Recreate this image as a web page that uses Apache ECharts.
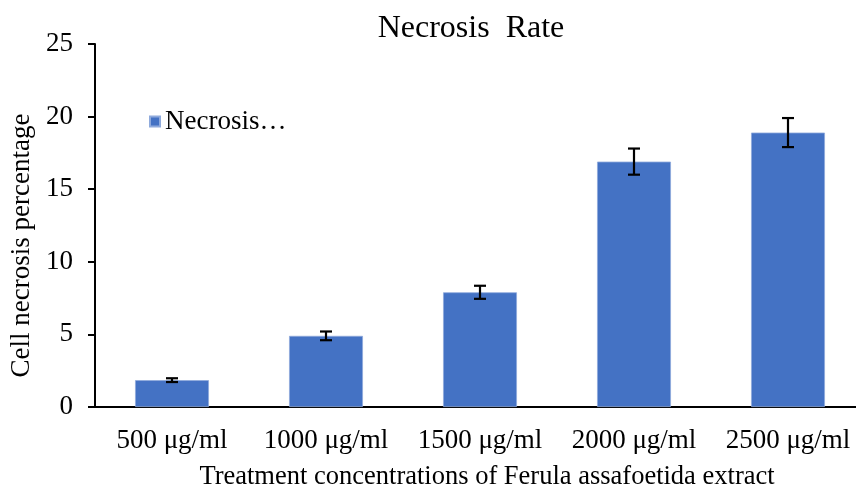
<!DOCTYPE html>
<html>
<head>
<meta charset="utf-8">
<script src="https://cdn.jsdelivr.net/npm/echarts@6/dist/echarts.min.js"></script>
<style>html,body{margin:0;padding:0;background:#fff;}#c{width:856px;height:490px;}</style>
</head>
<body>
<div id="c"></div>
<script>
var categories = ['500 μg/ml', '1000 μg/ml', '1500 μg/ml', '2000 μg/ml', '2500 μg/ml'];
var necrosis = [1.85, 4.9, 7.9, 16.9, 18.9];
var errors = [0.13, 0.3, 0.45, 0.9, 1.0];
var yTicks = [0, 5, 10, 15, 20, 25];

var FONT = '"Liberation Serif", "Times New Roman", serif';
var chart = echarts.init(document.getElementById('c'));
var errData = necrosis.map(function (v, i) { return [i, v - errors[i], v + errors[i]]; });

chart.setOption({
  animation: false,
  backgroundColor: '#fff',
  title: {
    text: 'Necrosis  Rate',
    left: 466, top: 8, textAlign: 'center',
    textStyle: { fontFamily: FONT, fontSize: 32, fontWeight: 'normal', color: '#000' }
  },
  legend: {
    data: ['Necrosis…'],
    left: 144, top: 103,
    itemWidth: 10, itemHeight: 10, itemGap: 6,
    icon: 'rect',
    textStyle: { fontFamily: FONT, fontSize: 27, color: '#000' }
  },
  grid: { left: 95, top: 44, width: 770, height: 363, outerBoundsMode: 'none', containLabel: false },
  xAxis: {
    type: 'category',
    data: categories,
    name: 'Treatment concentrations of Ferula assafoetida extract',
    nameLocation: 'middle',
    nameGap: 57,
    nameTextStyle: { fontFamily: FONT, fontSize: 26.5, color: '#000', padding: [0, 0, 0, 14] },
    axisLine: { lineStyle: { color: '#000', width: 2 } },
    axisTick: { show: false },
    axisLabel: { fontFamily: FONT, fontSize: 27, color: '#000', margin: 20, interval: 0 }
  },
  yAxis: {
    type: 'value',
    min: 0, max: 25, interval: 5,
    name: 'Cell necrosis percentage',
    nameLocation: 'middle',
    nameGap: 59,
    nameTextStyle: { fontFamily: FONT, fontSize: 27, color: '#000', padding: [0, 40, 0, 0] },
    axisLine: { show: true, lineStyle: { color: '#000', width: 2 } },
    axisTick: { show: true, length: 7, lineStyle: { color: '#000', width: 2 } },
    splitLine: { show: false },
    axisLabel: {
      fontFamily: FONT, fontSize: 27, color: '#000', margin: 22,
      formatter: function (v) { return yTicks.indexOf(v) >= 0 ? String(v) : ''; }
    }
  },
  series: [
    {
      name: 'Necrosis…',
      type: 'bar',
      data: necrosis,
      barWidth: '48%',
      itemStyle: { color: '#4472C4', borderColor: '#8FAADC', borderWidth: 0.8 }
    },
    {
      type: 'custom',
      name: 'err',
      data: errData,
      z: 10,
      renderItem: function (params, api) {
        var x = api.value(0);
        var lo = api.coord([x, api.value(1)]);
        var hi = api.coord([x, api.value(2)]);
        var hw = 6;
        var st = { stroke: '#000', lineWidth: 2.2 };
        return {
          type: 'group',
          children: [
            { type: 'line', shape: { x1: lo[0], y1: lo[1], x2: hi[0], y2: hi[1] }, style: st },
            { type: 'line', shape: { x1: lo[0] - hw, y1: lo[1], x2: lo[0] + hw, y2: lo[1] }, style: st },
            { type: 'line', shape: { x1: hi[0] - hw, y1: hi[1], x2: hi[0] + hw, y2: hi[1] }, style: st }
          ]
        };
      }
    }
  ]
});
</script>
</body>
</html>
